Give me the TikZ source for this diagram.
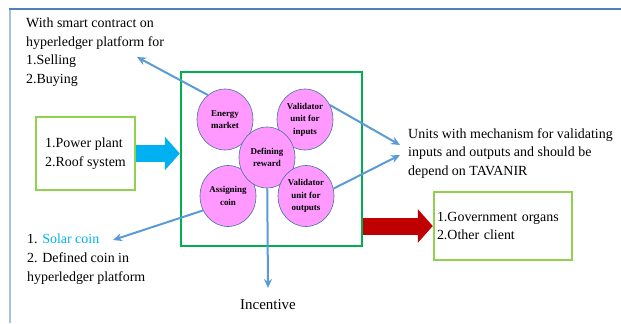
\documentclass[tikz,border=0pt]{standalone}
\usepackage{fontspec}
\setmainfont{Liberation Serif}
\usetikzlibrary{shapes.geometric, arrows.meta, calc, positioning}
\definecolor{framedark}{HTML}{4F81BD}
\definecolor{framelight}{HTML}{A7BFDE}
\definecolor{maingreen}{HTML}{00B050}
\definecolor{lightgreen}{HTML}{92D050}
\definecolor{linkblue}{HTML}{5B9BD5}
\definecolor{feedcyan}{HTML}{00B0F0}
\definecolor{outred}{HTML}{C00000}
\definecolor{unitfill}{HTML}{FF99FF}
\definecolor{unitedge}{HTML}{41719C}
\tikzstyle{unit} = [ellipse, draw=unitedge, fill=unitfill, line width=0.6bp, minimum width=56bp, minimum height=61bp, inner sep=0pt, align=center, font=\fontsize{9}{12.5}\selectfont\bfseries]
\tikzstyle{block} = [rectangle, line width=2.5bp, draw=lightgreen, align=left, inner ysep=0pt, font=\fontsize{14}{18.7}\selectfont]
\tikzstyle{note} = [align=left, inner sep=0pt, font=\fontsize{14}{18.7}\selectfont]
\tikzstyle{arrow} = [line width=2bp, draw=linkblue, -{Stealth[length=9bp, width=8bp]}]
\tikzstyle{fat} = [line width=17bp, -{Triangle[length=15bp, width=33bp]}]

\begin{document}
\begin{tikzpicture}[x=1bp, y=-1bp]
		\useasboundingbox (0,0) rectangle (621,323);
		\draw [framelight, line width=2bp] (10,323) -- (10,9);
		\draw [framedark, line width=1.3bp] (9,9) -- (621,9);
		\node (MainBox) [draw=maingreen, line width=2.5bp, minimum width=181bp, minimum height=174bp] at (271.5,159) {};
		\node (EnergyMarket) [unit] at (225,119.5) {Energy\\market};
		\node (ValidIn) [unit] at (305,119.5) {Validator\\unit for\\inputs};
		\node (AssignCoin) [unit] at (228,196) {Assigning\\coin};
		\node (DefReward) [unit] at (267,157.5) {Defining\\reward};
		\node (ValidOut) [unit] at (306,196) {Validator\\unit for\\outputs};
		\node (PowerBox) [block, minimum width=99bp, minimum height=73bp] at (85.5,153.5) {1.Power plant\\2.Roof system};
		\node (GovBox) [block, text width=132bp, inner xsep=3bp, minimum height=68bp] at (503,226) {1.Government organs\\2.Other client};
		\node (SellNote) [note, anchor=north west] at (26,17.5) {With smart contract on\\hyperledger platform for\\1.Selling\\2.Buying};
		\node (UnitsNote) [note, anchor=north west] at (408,128) {Units with mechanism for validating\\inputs and outputs and should be\\depend on TAVANIR};
		\node (CoinNote) [note, anchor=north west] at (27,234) {1. \textcolor{feedcyan}{Solar coin}\\2. Defined coin in\\hyperledger platform};
		\node (Incentive) [note, anchor=north, font=\fontsize{15}{18.7}\selectfont] at (268,299) {Incentive};
		\coordinate (SellTip) at (137,57);
		\coordinate (UnitsTipA) at (400,145);
		\coordinate (UnitsTipB) at (400,155);
		\coordinate (CoinTip) at (113,240);
		\coordinate (IncentiveTip) at (268,288);
		\draw [arrow] (EnergyMarket.125) -- (SellTip);
		\draw [arrow] (ValidIn.30) -- (UnitsTipA);
		\draw [arrow] (ValidOut.15) -- (UnitsTipB);
		\draw [arrow] (AssignCoin.210) -- (CoinTip);
		\draw [arrow] (DefReward) -- (IncentiveTip);
		\draw [fat, feedcyan] (PowerBox.east) -- (PowerBox.east -| MainBox.west);
		\draw [fat, outred] (MainBox.east |- GovBox.west) -- (GovBox.west);
\end{tikzpicture}
\end{document}
